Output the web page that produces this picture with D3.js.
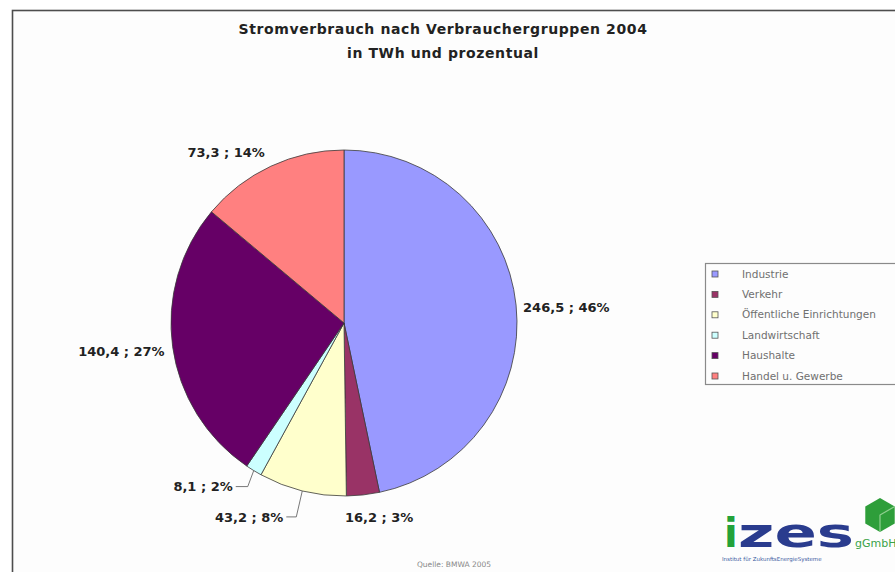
<!DOCTYPE html>
<html>
<head>
<meta charset="utf-8">
<script src="https://cdn.jsdelivr.net/npm/d3@7"></script>
<style>
  html, body { margin: 0; background: #fff; overflow: hidden; }
  svg { display: block; }
</style>
</head>
<body>
<script>
// Stromverbrauch nach Verbrauchergruppen 2004

var categories = ["Industrie", "Verkehr", "Öffentliche Einrichtungen", "Landwirtschaft", "Haushalte", "Handel u. Gewerbe"];
var values = [246.5, 16.2, 43.2, 8.1, 140.4, 73.3];   // TWh
var percents = [46, 3, 8, 2, 27, 14];                  // as printed in the labels
var colors = ["#9999ff", "#993366", "#ffffcc", "#ccffff", "#660066", "#ff8080"];

var width = 895;
var height = 572;
var cx = 344, cy = 323, radius = 173;

// label offsets from the slice's outer edge point (dx, dy, anchor, leader line?)
var labelLayout = [
  { dx: 7,   dy: 2,   anchor: "start", leader: false },
  { dx: -18, dy: 22,  anchor: "start", leader: false },
  { dx: -19, dy: 26,  anchor: "end",   leader: true },
  { dx: -21, dy: 16,  anchor: "end",   leader: true },
  { dx: -8,  dy: 5,   anchor: "end",   leader: false },
  { dx: -6,  dy: -14, anchor: "end",   leader: false }
];

var fmt = d3.format(".1f");

var svg = d3.select("body")
  .append("svg")
  .attr("width", width)
  .attr("height", height);

// chart frame (runs off the right and bottom)
svg.append("rect")
  .attr("x", 12.5)
  .attr("y", 10.5)
  .attr("width", width + 20)
  .attr("height", height + 20)
  .attr("fill", "#fdfdfd")
  .attr("stroke", "#4d4d4d")
  .attr("stroke-width", 1.6);

// title
var title = svg.append("text")
  .attr("text-anchor", "middle")
  .attr("font-family", "DejaVu Sans, sans-serif")
  .attr("font-weight", "bold")
  .attr("font-size", 14)
  .attr("letter-spacing", 0.6)
  .attr("fill", "#222");
title.append("tspan").attr("x", 443).attr("y", 34).text("Stromverbrauch nach Verbrauchergruppen 2004");
title.append("tspan").attr("x", 443).attr("y", 58).text("in TWh und prozentual");

// pie
var pie = d3.pie().sort(null).value(function(d) { return d; });
var arcs = pie(values);

var arc = d3.arc().innerRadius(0).outerRadius(radius);

var g = svg.append("g").attr("transform", "translate(" + cx + "," + cy + ")");

g.selectAll("path")
  .data(arcs)
  .enter()
  .append("path")
  .attr("d", arc)
  .attr("fill", function(d, i) { return colors[i]; })
  .attr("stroke", "#3a3a3a")
  .attr("stroke-width", 0.8);

// point on the rim at the middle of a slice
function rim(d) {
  var a = (d.startAngle + d.endAngle) / 2;
  return [radius * Math.sin(a), -radius * Math.cos(a)];
}

// leader lines for the small slices
arcs.forEach(function(d, i) {
  var L = labelLayout[i];
  if (!L.leader) return;
  var p = rim(d);
  var ly = p[1] + L.dy;
  var lx = p[0] + L.dx;
  g.append("polyline")
    .attr("points", [[p[0], p[1]], [p[0] - 6, ly], [lx + 3, ly]].map(function(q) { return q.join(","); }).join(" "))
    .attr("fill", "none")
    .attr("stroke", "#555")
    .attr("stroke-width", 0.8);
});

g.selectAll("text.lbl")
  .data(arcs)
  .enter()
  .append("text")
  .attr("class", "lbl")
  .attr("x", function(d, i) { return rim(d)[0] + labelLayout[i].dx; })
  .attr("y", function(d, i) { return rim(d)[1] + labelLayout[i].dy; })
  .attr("dy", "0.36em")
  .attr("text-anchor", function(d, i) { return labelLayout[i].anchor; })
  .attr("font-family", "DejaVu Sans, sans-serif")
  .attr("font-weight", "bold")
  .attr("font-size", 13)
  .attr("fill", "#222")
  .text(function(d, i) { return fmt(values[i]).replace(".", ",") + " ; " + percents[i] + "%"; });

// legend
var legend = svg.append("g");
legend.append("rect")
  .attr("x", 705.5)
  .attr("y", 263.5)
  .attr("width", 200)
  .attr("height", 121)
  .attr("fill", "#fdfdfd")
  .attr("stroke", "#8a8a8a")
  .attr("stroke-width", 1.2);

var rowY = d3.scalePoint().domain(categories).range([274, 376]);

legend.selectAll("rect.key")
  .data(categories)
  .enter()
  .append("rect")
  .attr("class", "key")
  .attr("x", 712)
  .attr("y", function(d) { return rowY(d) - 3; })
  .attr("width", 6)
  .attr("height", 6)
  .attr("fill", function(d, i) { return colors[i]; })
  .attr("stroke", "#555")
  .attr("stroke-width", 0.8);

legend.selectAll("text")
  .data(categories)
  .enter()
  .append("text")
  .attr("x", 742)
  .attr("y", function(d) { return rowY(d); })
  .attr("dy", "0.35em")
  .attr("font-family", "DejaVu Sans, sans-serif")
  .attr("font-size", 10.5)
  .attr("fill", "#707070")
  .text(function(d) { return d; });

// source
svg.append("text")
  .attr("x", 454)
  .attr("y", 567)
  .attr("text-anchor", "middle")
  .attr("font-family", "DejaVu Sans, sans-serif")
  .attr("font-size", 7.5)
  .attr("fill", "#888")
  .text("Quelle: BMWA 2005");

// izes logo
var logo = svg.append("g");
logo.append("text")
  .attr("x", 724)
  .attr("y", 547)
  .attr("font-family", "DejaVu Sans, sans-serif")
  .attr("font-weight", "bold")
  .attr("font-size", 40)
  .attr("fill", "#23a23a")
  .text("i");
logo.append("text")
  .attr("x", 738)
  .attr("y", 547)
  .attr("textLength", 116)
  .attr("lengthAdjust", "spacingAndGlyphs")
  .attr("font-family", "DejaVu Sans, sans-serif")
  .attr("font-weight", "bold")
  .attr("font-size", 40)
  .attr("fill", "#2a3c8e")
  .text("zes");
logo.append("text")
  .attr("x", 855)
  .attr("y", 547)
  .attr("font-family", "DejaVu Sans, sans-serif")
  .attr("font-size", 11)
  .attr("fill", "#3aa34a")
  .text("gGmbH");
var hex = d3.range(6).map(function(k) {
  var a = Math.PI / 3 * k + Math.PI / 6;
  return [880 + 17 * Math.cos(a), 515 + 17 * Math.sin(a)];
});
logo.append("polygon")
  .attr("points", hex.map(function(p) { return p.join(","); }).join(" "))
  .attr("fill", "#2e9e3a");
logo.append("polyline")
  .attr("points", [[880, 515], [880 + 17 * Math.cos(Math.PI / 6), 515 - 17 * Math.sin(Math.PI / 6)]].concat([[880, 515], [880, 532]]).map(function(p) { return p.join(","); }).join(" "))
  .attr("fill", "none")
  .attr("stroke", "#8fd08f")
  .attr("stroke-width", 1.2);
logo.append("text")
  .attr("x", 722)
  .attr("y", 561)
  .attr("font-family", "DejaVu Sans, sans-serif")
  .attr("font-size", 5.5)
  .attr("fill", "#3a5aa0")
  .text("Institut für ZukunftsEnergieSysteme");
</script>
</body>
</html>
